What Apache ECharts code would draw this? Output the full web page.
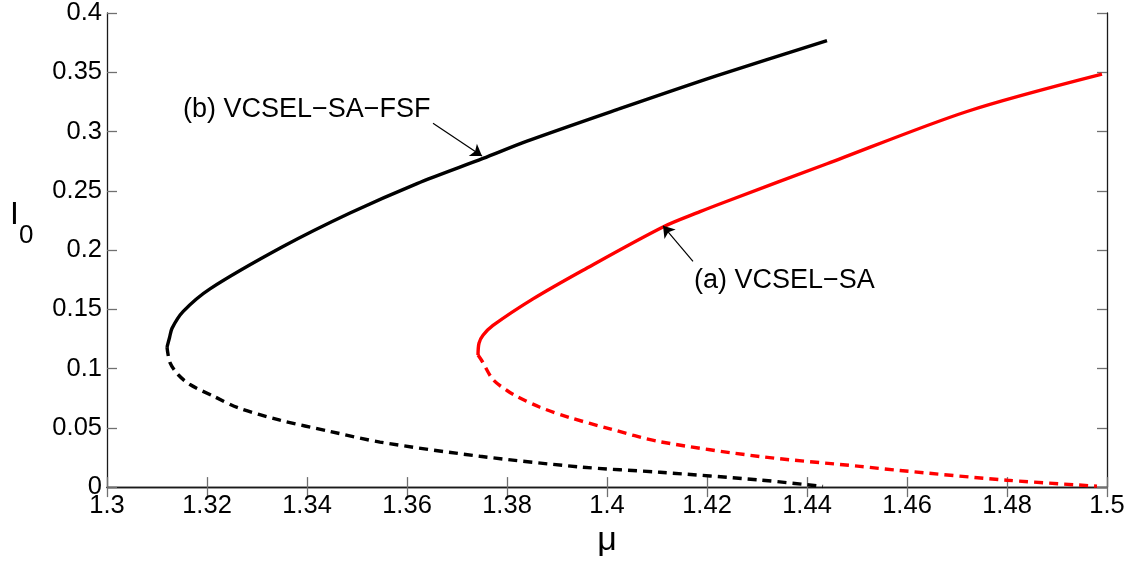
<!DOCTYPE html>
<html>
<head>
<meta charset="utf-8">
<script src="https://cdn.jsdelivr.net/npm/echarts@6/dist/echarts.min.js"></script>
<style>
html,body{margin:0;padding:0;background:#fff;}
#c{width:1134px;height:563px;}
</style>
</head>
<body>
<div id="c"></div>
<script>
// ---- data (mu, I0) ----
var blackStable = [[1.3120,0.1181],[1.3125,0.126],[1.3130,0.1339],[1.3152,0.1480],[1.3206,0.1672],[1.3352,0.2029],[1.3486,0.2312],[1.3620,0.2561],[1.3752,0.2773],[1.3840,0.2919],[1.4020,0.3185],[1.4220,0.3472],[1.4440,0.3767]];
var blackUnstable = [[1.3120,0.1181],[1.3126,0.105],[1.3142,0.095],[1.3166,0.0865],[1.3214,0.0765],[1.3262,0.067],[1.3346,0.0565],[1.3446,0.047],[1.3546,0.038],[1.3746,0.026],[1.3946,0.017],[1.4106,0.0125],[1.4306,0.006],[1.4432,0.0005]];
var redStable = [[1.3742,0.1114],[1.3744,0.1214],[1.3752,0.1281],[1.3772,0.1364],[1.3852,0.1588],[1.3952,0.1830],[1.4112,0.2195],[1.4186,0.2324],[1.4240,0.2412],[1.4440,0.2728],[1.4720,0.3169],[1.4990,0.3484]];
var redUnstable = [[1.3742,0.1114],[1.3750,0.1064],[1.3772,0.0907],[1.3800,0.0815],[1.3820,0.0765],[1.3866,0.0674],[1.3926,0.0586],[1.4006,0.0491],[1.4106,0.0383],[1.4306,0.0258],[1.4506,0.0175],[1.4586,0.0140],[1.4800,0.0058],[1.4980,0.0008]];
var xTicks = [1.3,1.32,1.34,1.36,1.38,1.4,1.42,1.44,1.46,1.48,1.5];
var yTicks = [0,0.05,0.1,0.15,0.2,0.25,0.3,0.35,0.4];
var annotationLabels = ['(b) VCSEL\u2212SA\u2212FSF','(a) VCSEL\u2212SA'];
var annotationTextAt = [[1.3152,0.3185],[1.4174,0.1746]];
var arrowFrom = [[1.3652,0.3069],[1.4172,0.1904]];
var arrowTo = [[1.3750,0.2794],[1.4112,0.2204]];

var FONT = 'Liberation Sans, Arial, Helvetica, sans-serif';
var chart = echarts.init(document.getElementById('c'), null, {renderer:'canvas'});
function fmt(v){ return String(+(+v).toFixed(3)); }

var axisLineStyle = {color:'#1a1a1a', width:1.3};
var tickStyle = {color:'#707070', width:1.3};
var SMOOTH = 0.3;

var option = {
  animation:false,
  backgroundColor:'#fff',
  grid:{left:107, right:27, top:10, bottom:72, containLabel:false},
  xAxis:[{
    type:'value', min:xTicks[0], max:xTicks[xTicks.length-1], interval:0.02, position:'bottom',
    name:'\u03bc', nameLocation:'middle', nameGap:27,
    nameTextStyle:{fontFamily:FONT, fontSize:34, color:'#000'},
    axisLine:{show:true, lineStyle:axisLineStyle},
    axisTick:{show:true, inside:true, length:10, lineStyle:tickStyle},
    axisLabel:{show:true, fontFamily:FONT, fontSize:25.5, color:'#000', margin:6, formatter:fmt},
    splitLine:{show:false}
  },{
    type:'value', min:xTicks[0], max:xTicks[xTicks.length-1], interval:0.02, position:'top',
    axisLine:{show:true, lineStyle:axisLineStyle},
    axisTick:{show:true, inside:true, length:10, lineStyle:tickStyle},
    axisLabel:{show:false}, splitLine:{show:false}
  }],
  yAxis:[{
    type:'value', min:yTicks[0], max:yTicks[yTicks.length-1], interval:0.05, position:'left',
    axisLine:{show:true, lineStyle:axisLineStyle},
    axisTick:{show:true, inside:true, length:10, lineStyle:tickStyle},
    axisLabel:{show:true, fontFamily:FONT, fontSize:25.5, color:'#000', margin:5, formatter:fmt},
    splitLine:{show:false}
  },{
    type:'value', min:yTicks[0], max:yTicks[yTicks.length-1], interval:0.05, position:'right',
    axisLine:{show:true, lineStyle:axisLineStyle},
    axisTick:{show:true, inside:true, length:10, lineStyle:tickStyle},
    axisLabel:{show:false}, splitLine:{show:false}
  }],
  graphic:[
    {type:'text', left:10, top:199, style:{text:'I', fontFamily:FONT, fontSize:32, fill:'#000'}},
    {type:'text', left:19, top:223, style:{text:'0', fontFamily:FONT, fontSize:26, fill:'#000'}}
  ],
  series:[
    {type:'line', name:'b stable', data:blackStable, showSymbol:false, symbol:'none', smooth:SMOOTH,
     lineStyle:{color:'#000', width:3.4}, z:3},
    {type:'line', name:'b unstable', data:blackUnstable, showSymbol:false, symbol:'none', smooth:SMOOTH,
     lineStyle:{color:'#000', width:3.4, type:[9,6]}, z:3},
    {type:'line', name:'a stable', data:redStable, showSymbol:false, symbol:'none', smooth:SMOOTH,
     lineStyle:{color:'#ff0000', width:3.4}, z:3},
    {type:'line', name:'a unstable', data:redUnstable, showSymbol:false, symbol:'none', smooth:SMOOTH,
     lineStyle:{color:'#ff0000', width:3.4, type:[9,6]}, z:3},
    {type:'scatter', name:'annotations', symbolSize:0, silent:true, z:5,
     itemStyle:{opacity:1},
     data:annotationTextAt.map(function(p,i){ return {value:p, label:{formatter:annotationLabels[i]}}; }),
     label:{show:true, position:'right', distance:0, fontFamily:FONT, fontSize:27, color:'#000', opacity:1},
     markLine:{
       silent:true, symbol:['none','arrow'], symbolSize:11, animation:false,
       label:{show:false},
       itemStyle:{color:'#000', opacity:1},
       lineStyle:{color:'#000', width:1.2, type:'solid', opacity:1},
       data:arrowFrom.map(function(p,i){ return [{coord:p},{coord:arrowTo[i]}]; })
     }}
  ]
};
chart.setOption(option);
</script>
</body>
</html>
